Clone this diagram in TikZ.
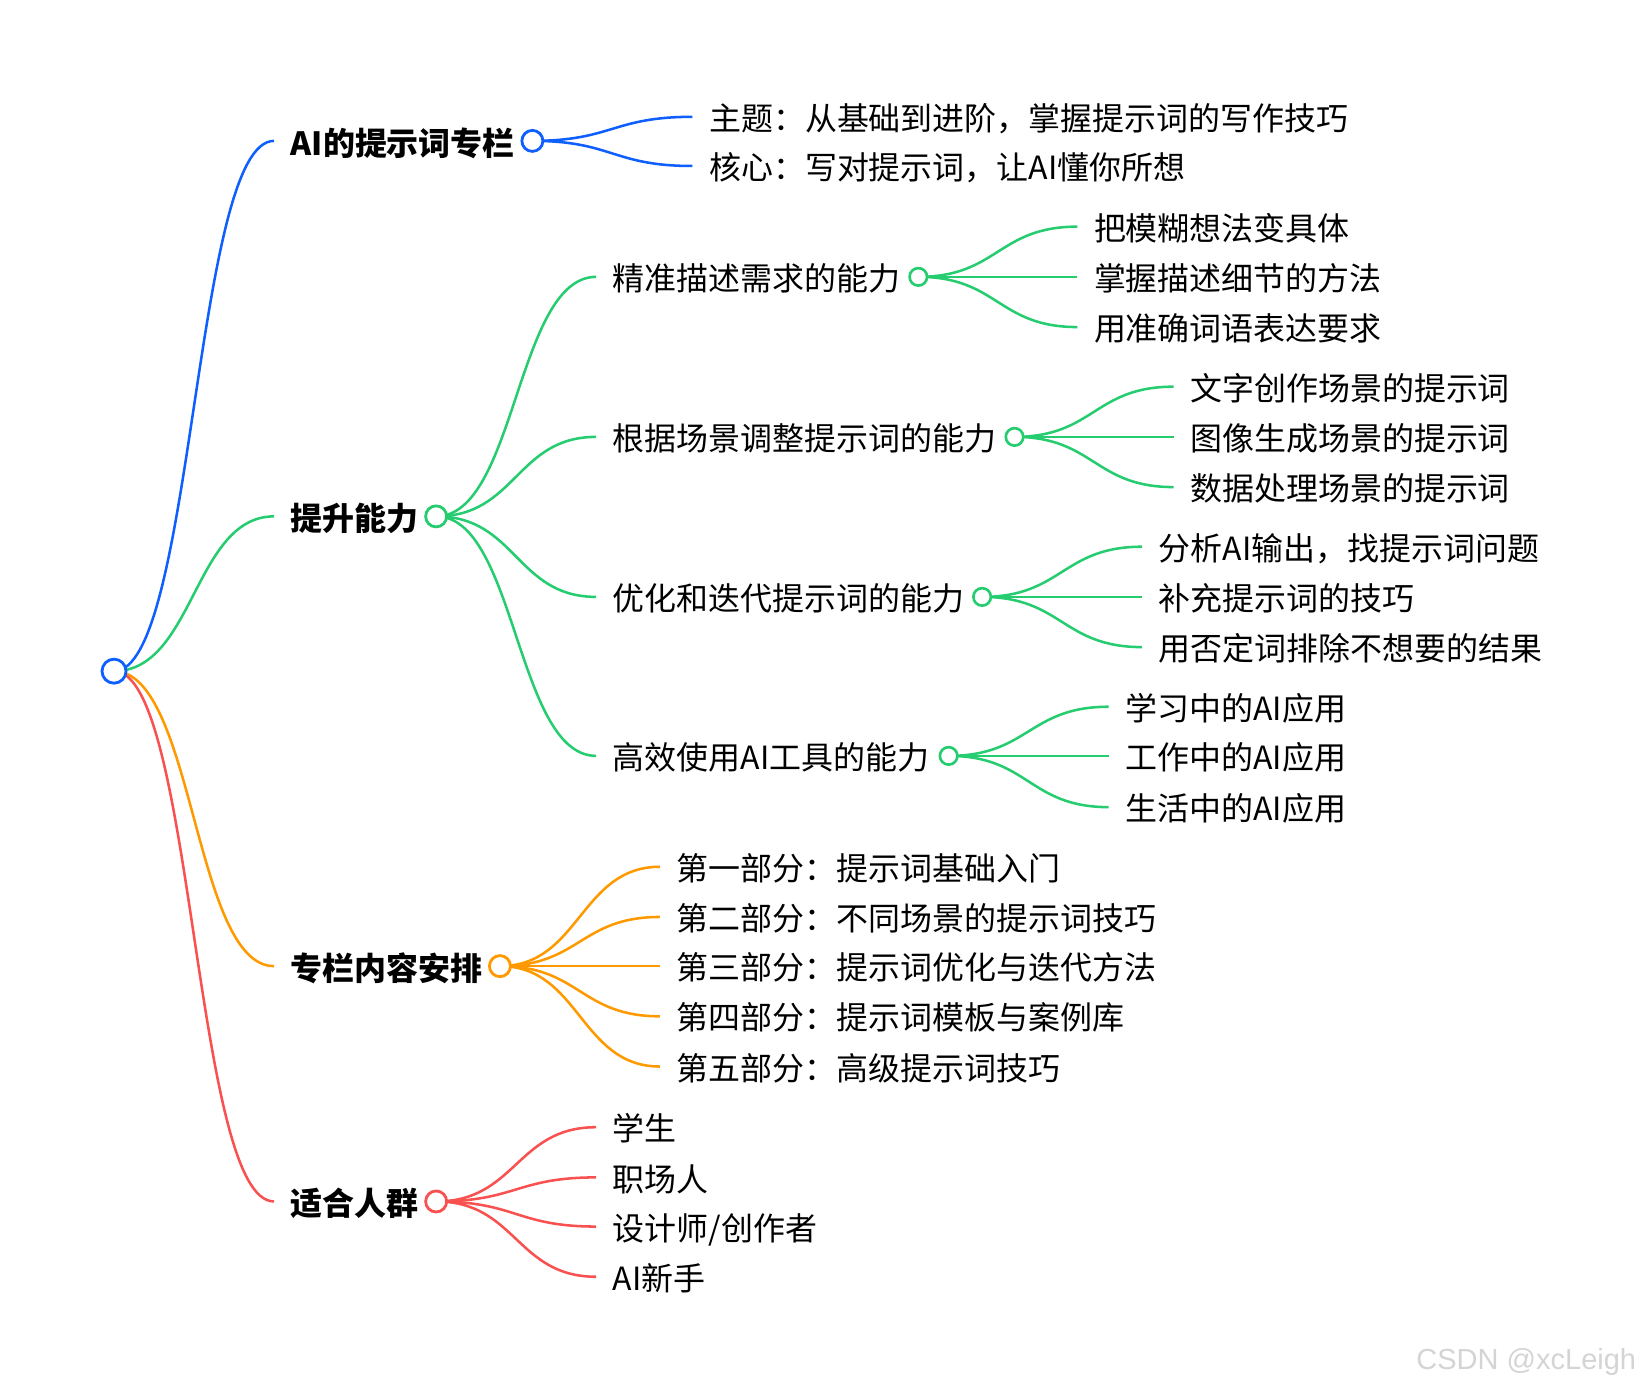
\documentclass[tikz,border=0pt]{standalone}
\usepackage{fontspec}
\setmainfont{Noto Sans CJK SC}
\newfontfamily\markfont{Liberation Sans}
\usetikzlibrary{calc,backgrounds}
\definecolor{cblue}{HTML}{0F5FFF}
\definecolor{cgreen}{HTML}{25CC70}
\definecolor{corange}{HTML}{FF9900}
\definecolor{cred}{HTML}{F95050}
\newcommand{\wcolon}{\symbol{"FF1A}}
\newcommand{\wcomma}{\symbol{"FF0C}}
\tikzset{
  item/.style={anchor=west,inner xsep=0.16cm,inner ysep=0pt,text height=9.75pt,text depth=2pt,font=\fontsize{9.09}{11}\selectfont},
  head/.style={item,text height=10.2pt,font=\fontsize{9.09}{11}\selectfont\bfseries},
  hub/.style={circle,draw=#1,fill=white,inner sep=0pt,minimum size=0.175cm,line width=0.75pt},
  bighub/.style={hub=#1,minimum size=0.21cm,line width=0.8pt},
  wire/.style={line width=0.72pt}
}
\newcommand{\lnk}[3]{\path[wire,draw=#1] let \p1=(#2.center),\p2=(#3.west) in (\p1) .. controls ({0.5*(\x1+\x2)},\y1) and ({0.5*(\x1+\x2)},\y2) .. (\p2); }
\begin{document}
\begin{tikzpicture}[x=0.010459cm,y=-0.010459cm]
  \useasboundingbox (0,-0.7) rectangle (1568,1325.3);
  \node[bighub=cblue,minimum size=0.24cm] (root) at (109,641) {};
  % first level
  \node[head] (intro) at (262,134) {AI的提示词专栏};
  \node[bighub=cblue] (introhub) at (509,134) {};
  \node[head] (skill) at (262,493) {提升能力};
  \node[bighub=cgreen] (skillhub) at (417,493) {};
  \node[head] (plan) at (262,923) {专栏内容安排};
  \node[bighub=corange] (planhub) at (478,923) {};
  \node[head] (crowd) at (262,1148) {适合人群};
  \node[bighub=cred] (crowdhub) at (417,1148) {};
  % intro
  \node[item] (topic) at (662,111) {主题\wcolon 从基础到进阶\wcomma 掌握提示词的写作技巧};
  \node[item] (core) at (662,158) {核心\wcolon 写对提示词\wcomma 让AI懂你所想};
  % skills
  \node[item] (sk1) at (570,264) {精准描述需求的能力};
  \node[hub=cgreen] (sk1hub) at (878,264) {};
  \node[item] (sk2) at (570,417) {根据场景调整提示词的能力};
  \node[hub=cgreen] (sk2hub) at (970,417) {};
  \node[item] (sk3) at (570,570) {优化和迭代提示词的能力};
  \node[hub=cgreen] (sk3hub) at (939,570) {};
  \node[item] (sk4) at (570,722) {高效使用AI工具的能力};
  \node[hub=cgreen] (sk4hub) at (907,722) {};
  \node[item] (sk1a) at (1030,216) {把模糊想法变具体};
  \node[item] (sk1b) at (1030,264) {掌握描述细节的方法};
  \node[item] (sk1c) at (1030,312) {用准确词语表达要求};
  \node[item] (sk2a) at (1122,369) {文字创作场景的提示词};
  \node[item] (sk2b) at (1122,417) {图像生成场景的提示词};
  \node[item] (sk2c) at (1122,465) {数据处理场景的提示词};
  \node[item] (sk3a) at (1092,522) {分析AI输出\wcomma 找提示词问题};
  \node[item] (sk3b) at (1092,570) {补充提示词的技巧};
  \node[item] (sk3c) at (1092,618) {用否定词排除不想要的结果};
  \node[item] (sk4a) at (1060,675) {学习中的AI应用};
  \node[item] (sk4b) at (1060,722) {工作中的AI应用};
  \node[item] (sk4c) at (1060,771) {生活中的AI应用};
  % plan
  \node[item] (pl1) at (631,828) {第一部分\wcolon 提示词基础入门};
  \node[item] (pl2) at (631,876) {第二部分\wcolon 不同场景的提示词技巧};
  \node[item] (pl3) at (631,923) {第三部分\wcolon 提示词优化与迭代方法};
  \node[item] (pl4) at (631,971) {第四部分\wcolon 提示词模板与案例库};
  \node[item] (pl5) at (631,1019) {第五部分\wcolon 高级提示词技巧};
  % crowd
  \node[item] (cr1) at (570,1077) {学生};
  \node[item] (cr2) at (570,1125) {职场人};
  \node[item] (cr3) at (570,1172) {设计师/创作者};
  \node[item] (cr4) at (570,1220) {AI新手};
  \node[anchor=east,inner sep=0pt,text=black!17,font=\fontsize{8.25}{10}\markfont] (mark) at (1565,1301.5) {CSDN @xcLeigh};
  \begin{scope}[on background layer]
    \lnk{cblue}{root}{intro}
    \lnk{cgreen}{root}{skill}
    \lnk{corange}{root}{plan}
    \lnk{cred}{root}{crowd}
    \lnk{cblue}{introhub}{topic}
    \lnk{cblue}{introhub}{core}
    \lnk{cgreen}{skillhub}{sk1}
    \lnk{cgreen}{skillhub}{sk2}
    \lnk{cgreen}{skillhub}{sk3}
    \lnk{cgreen}{skillhub}{sk4}
    \lnk{cgreen}{sk1hub}{sk1a}
    \lnk{cgreen}{sk1hub}{sk1b}
    \lnk{cgreen}{sk1hub}{sk1c}
    \lnk{cgreen}{sk2hub}{sk2a}
    \lnk{cgreen}{sk2hub}{sk2b}
    \lnk{cgreen}{sk2hub}{sk2c}
    \lnk{cgreen}{sk3hub}{sk3a}
    \lnk{cgreen}{sk3hub}{sk3b}
    \lnk{cgreen}{sk3hub}{sk3c}
    \lnk{cgreen}{sk4hub}{sk4a}
    \lnk{cgreen}{sk4hub}{sk4b}
    \lnk{cgreen}{sk4hub}{sk4c}
    \lnk{corange}{planhub}{pl1}
    \lnk{corange}{planhub}{pl2}
    \lnk{corange}{planhub}{pl3}
    \lnk{corange}{planhub}{pl4}
    \lnk{corange}{planhub}{pl5}
    \lnk{cred}{crowdhub}{cr1}
    \lnk{cred}{crowdhub}{cr2}
    \lnk{cred}{crowdhub}{cr3}
    \lnk{cred}{crowdhub}{cr4}
  \end{scope}
\end{tikzpicture}
\end{document}
